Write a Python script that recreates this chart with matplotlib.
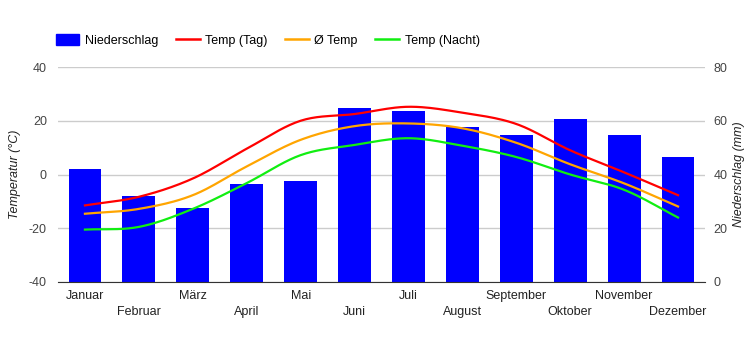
import numpy as np
import matplotlib
matplotlib.use("Agg")
import matplotlib.pyplot as plt
from matplotlib.patches import Patch
from matplotlib.lines import Line2D

plt.rcParams['font.family'] = ['Liberation Sans', 'DejaVu Sans']
plt.rcParams['axes.unicode_minus'] = False

monate = ['Januar', 'Februar', 'März', 'April', 'Mai', 'Juni', 'Juli',
          'August', 'September', 'Oktober', 'November', 'Dezember']
niederschlag = [42, 32, 27.5, 36.5, 37.5, 64.7, 63.6, 57.7, 54.7, 60.7, 54.7, 46.5]
temp_tag = [-11.5, -8.3, -1.5, 9.6, 20, 22.5, 25.2, 23, 18.8, 9, 0.8, -7.7]
temp_avg = [-14.6, -12.8, -7.7, 3, 12.9, 18, 19, 17.2, 11.8, 3.8, -3.3, -11.9]
temp_nacht = [-20.5, -19.5, -12.8, -3.2, 7.2, 11, 13.5, 10.7, 6.5, 0, -5.7, -16]


def smooth(y, n=20):
    # catmull-rom spline through the monthly points, only for drawing
    y = np.asarray(y, dtype=float)
    x = np.arange(len(y), dtype=float)
    p = np.concatenate([[2 * y[0] - y[1]], y, [2 * y[-1] - y[-2]]])
    xs, ys = [], []
    for i in range(len(y) - 1):
        t = np.linspace(0, 1, n, endpoint=False)
        p0, p1, p2, p3 = p[i], p[i + 1], p[i + 2], p[i + 3]
        seg = 0.5 * ((2 * p1) + (-p0 + p2) * t + (2 * p0 - 5 * p1 + 4 * p2 - p3) * t ** 2
                     + (-p0 + 3 * p1 - 3 * p2 + p3) * t ** 3)
        xs.append(x[i] + t)
        ys.append(seg)
    xs.append([x[-1]])
    ys.append([y[-1]])
    return np.concatenate(xs), np.concatenate(ys)


fig = plt.figure(figsize=(7.5, 3.5), dpi=100)
ax2 = fig.add_axes([58 / 750, 1 - 282 / 350, 647 / 750, 215 / 350])
ax = ax2.twinx()
ax.yaxis.tick_left()
ax.yaxis.set_label_position('left')
ax2.yaxis.tick_right()
ax2.yaxis.set_label_position('right')
ax.set_zorder(ax2.get_zorder() + 1)
ax.patch.set_visible(False)

x = np.arange(len(monate))
ax2.bar(x, niederschlag, width=0.61, color='#0000ff', zorder=2)
ax2.set_ylim(0, 80)
ax2.set_yticks([0, 20, 40, 60, 80])
ax2.grid(axis='y', color='#cccccc', linewidth=1, zorder=0)
ax2.set_axisbelow(True)
ax2.set_xlim(-0.5, 11.5)

for data, col in [(temp_tag, '#ff0000'), (temp_avg, '#ffa500'), (temp_nacht, '#11ee11')]:
    xs, ys = smooth(data)
    ax.plot(xs, ys, color=col, linewidth=1.6)
ax.set_ylim(-40, 40)
ax.set_yticks([-40, -20, 0, 20, 40])
ax.set_xlim(-0.5, 11.5)

labels = [m if i % 2 == 0 else '\n' + m for i, m in enumerate(monate)]
ax2.set_xticks(x)
ax2.set_xticklabels(labels, fontsize=9, color='#222222', linespacing=1.45)

for a in (ax, ax2):
    for s in ['top', 'left', 'right']:
        a.spines[s].set_visible(False)
    a.tick_params(length=0, labelsize=9, colors='#444444')
ax.spines['bottom'].set_visible(False)
ax2.spines['bottom'].set_color('#333333')
ax2.tick_params(axis='x', colors='#222222', pad=6)
ax.tick_params(axis='y', pad=8)
ax2.tick_params(axis='y', pad=6)

ax.set_ylabel('Temperatur (°C)', fontsize=9, style='italic', color='#222222', labelpad=6)
ax2.set_ylabel('Niederschlag (mm)', fontsize=9, style='italic', color='#222222', labelpad=4)

handles = [Patch(color='#0000ff'),
           Line2D([], [], color='#ff0000', lw=1.8),
           Line2D([], [], color='#ffa500', lw=1.8),
           Line2D([], [], color='#11ee11', lw=1.8)]
names = ['Niederschlag', 'Temp (Tag)', 'Ø Temp', 'Temp (Nacht)']
fig.legend(handles, names, loc='center left', bbox_to_anchor=(0.059, 0.885), ncol=4,
           frameon=False, fontsize=9, handlelength=1.9, handleheight=1.0,
           columnspacing=1.4, handletextpad=0.45)

fig.savefig('out.png', dpi=100)
